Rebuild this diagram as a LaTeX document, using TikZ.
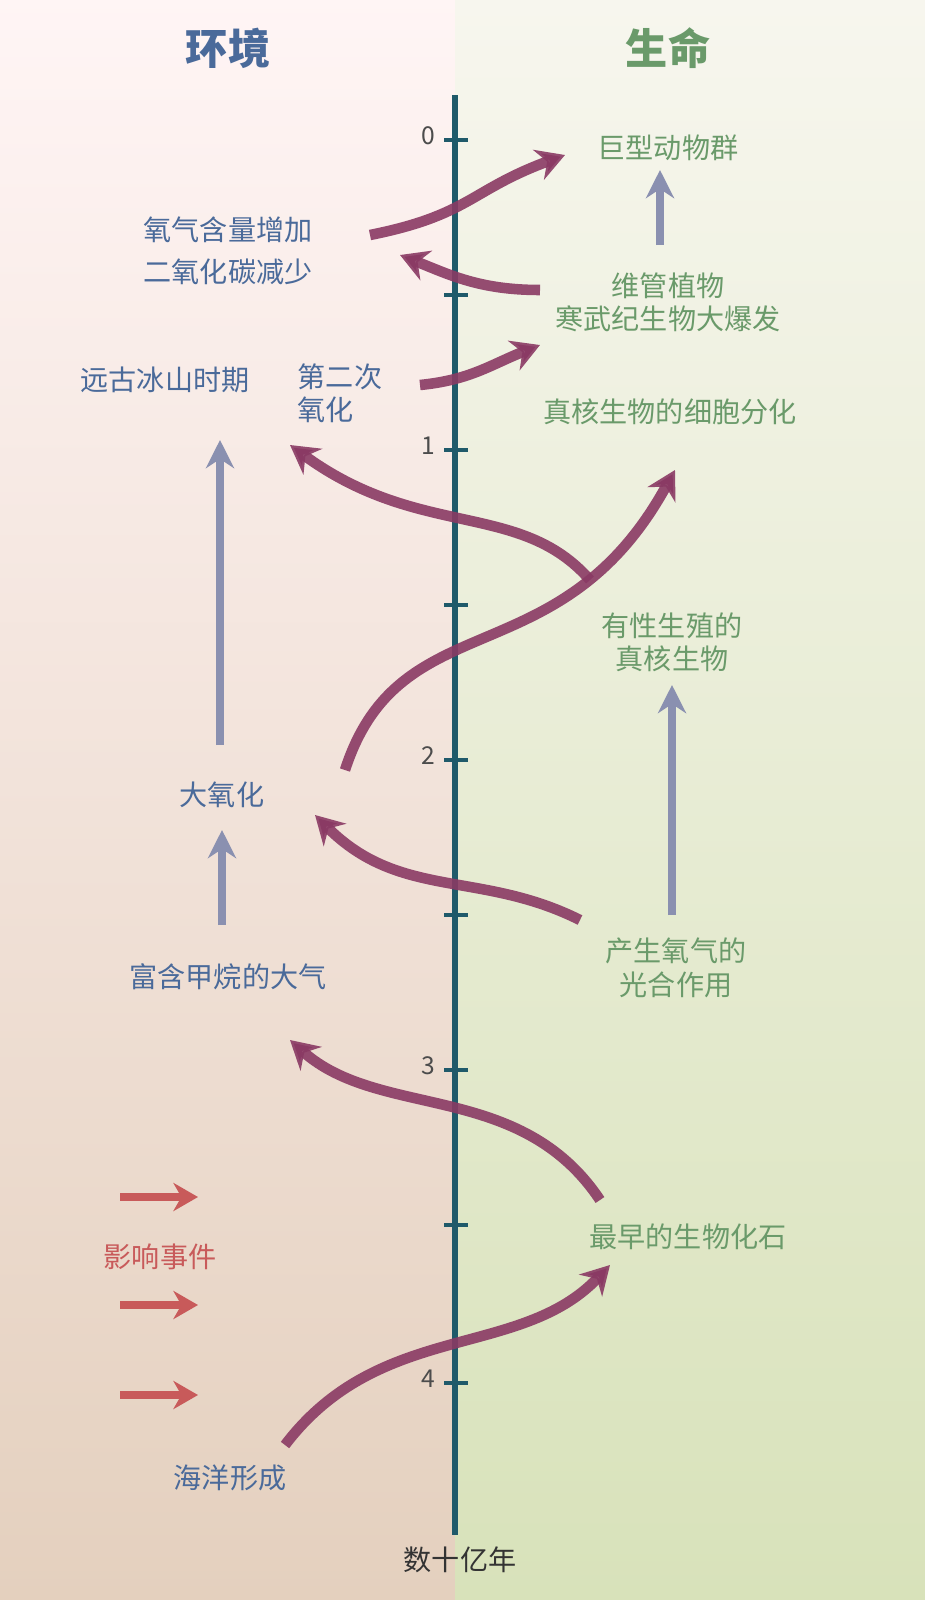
\documentclass[tikz,border=0pt]{standalone}
\usepackage{fontspec}
\setmainfont{Noto Sans CJK SC}
\usetikzlibrary{arrows.meta,positioning}
\definecolor{envblue}{HTML}{4A6A9A}
\definecolor{lifegreen}{HTML}{6A9A6A}
\definecolor{linkpurple}{HTML}{8A3A64}
\definecolor{riseblue}{HTML}{8A90B0}
\definecolor{hitred}{HTML}{C85A5A}
\definecolor{axisteal}{HTML}{1F5A6A}
\begin{document}
\begin{tikzpicture}[x=0.02cm, y=-0.02cm,
  env/.style={font=\fontsize{16}{19}\selectfont, text=envblue, align=center},
  life/.style={font=\fontsize{16}{19}\selectfont, text=lifegreen, align=center},
  head/.style={font=\fontsize{24}{28}\selectfont\bfseries},
  link/.style={draw=linkpurple, line width=6pt, -{Stealth[length=16pt,width=18pt]}},
  rise/.style={draw=riseblue, line width=5pt, -{Stealth[length=16pt,width=16pt]}},
  hit/.style={draw=hitred, line width=5pt, -{Stealth[length=14pt,width=16pt]}}]

% background halves
\useasboundingbox (0,0) rectangle (925,1600);
\shade[top color=white!60!pink!40!white, bottom color={rgb,255:red,228;green,208;blue,190}] (0,0) rectangle (455,1600);
\shade[top color={rgb,255:red,247;green,246;blue,238}, bottom color={rgb,255:red,216;green,226;blue,186}] (455,0) rectangle (925,1600);

% time axis
\draw[axisteal, line width=3pt] (455,95) -- (455,1535);
\foreach \y in {295,605,915,1225}
  \draw[axisteal, line width=2.5pt] (444,\y) -- (468,\y);
\foreach \y/\t in {140/0,450/1,760/2,1070/3,1383/4} {
  \draw[axisteal, line width=2.5pt] (444,\y) -- (468,\y);
  \node[font=\fontsize{14}{16}\selectfont, text=black!70] at (428,\y-4) {\t};
}
\node (years) [font=\fontsize{16}{19}\selectfont, text=black!80] at (460,1560) {数十亿年};

% headings
\node (envhead) [head, text=envblue] at (228,48) {环境};
\node (lifehead) [head, text=lifegreen] at (668,48) {生命};

% environment
\node (oxy) [env] at (228,230) {氧气含量增加};
\node (co2) [env] at (228,272) {二氧化碳减少};
\node (ice) [env] at (165,380) {远古冰山时期};
\node (second) [env, align=left] at (340,393) {第二次\\氧化};
\node (great) [env] at (222,795) {大氧化};
\node (methane) [env] at (228,977) {富含甲烷的大气};
\node (ocean) [env] at (230,1478) {海洋形成};
\node (impact) [font=\fontsize{16}{19}\selectfont, text=hitred] at (160,1257) {影响事件};

% life
\node (fauna) [life] at (668,148) {巨型动物群};
\node (plants) [life] at (668,302) {维管植物\\寒武纪生物大爆发};
\node (cells) [life] at (670,412) {真核生物的细胞分化};
\node (sexual) [life] at (672,642) {有性生殖的\\真核生物};
\node (photo) [life] at (676,968) {产生氧气的\\光合作用};
\node (fossil) [life] at (688,1237) {最早的生物化石};

% links across the axis
\draw[link, draw opacity=0.9] (370,235) .. controls (470,215) and (470,190) .. (565,155);
\draw[link, draw opacity=0.9] (540,290) .. controls (480,290) and (450,275) .. (400,255);
\draw[link, draw opacity=0.9] (420,385) .. controls (470,380) and (490,365) .. (540,345);
\draw[link, draw opacity=0.9] (590,580) .. controls (520,500) and (420,540) .. (290,445);
\draw[link, draw opacity=0.9] (345,770) .. controls (400,600) and (560,680) .. (675,470);
\draw[link, draw opacity=0.9] (580,920) .. controls (480,870) and (400,900) .. (315,815);
\draw[link, draw opacity=0.9] (600,1200) .. controls (520,1080) and (380,1120) .. (290,1040);
\draw[link, draw opacity=0.9] (285,1445) .. controls (380,1320) and (520,1360) .. (610,1265);

% upward trends
\draw[rise] (660,245) -- (660,170);
\draw[rise] (220,745) -- (220,440);
\draw[rise] (222,925) -- (222,830);
\draw[rise] (672,915) -- (672,685);

% impacts
\foreach \y in {1197,1305,1395}
  \draw[hit] (120,\y) -- (198,\y);
\end{tikzpicture}
\end{document}
